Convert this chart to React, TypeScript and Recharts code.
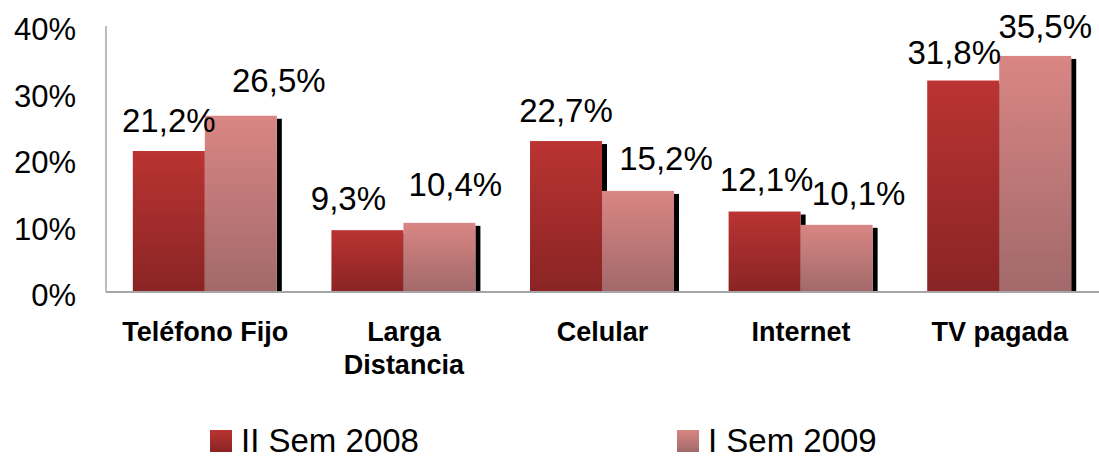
import React from 'react';
import { BarChart, Bar, XAxis, YAxis, LabelList } from 'recharts';

const FONT = '"Liberation Sans", Arial, sans-serif';

const categories = ['Teléfono Fijo', 'Larga\nDistancia', 'Celular', 'Internet', 'TV pagada'];
const seriesNames = ['II Sem 2008', 'I Sem 2009'];
const sem2008 = [21.2, 9.3, 22.7, 12.1, 31.8];
const sem2009 = [26.5, 10.4, 15.2, 10.1, 35.5];
const yTicks = [0, 10, 20, 30, 40];

const data = categories.map((name, i) => ({ name, s1: sem2008[i], s2: sem2009[i] }));

const GRADS = [
  { id: 'g1', top: '#BA3432', bottom: '#892424' },
  { id: 'g2', top: '#D98684', bottom: '#A2696A' },
];

// hand-placed label nudges from the original (dx, dy in px)
const NUDGE_1 = [[0, 0], [-19, -1], [0, 0], [2, -2], [-9, 2]];
const NUDGE_2 = [[38, -5], [16, -8], [28, -2], [22, -1], [10, 1]];

const fmt = (v: any) => `${Number(v).toFixed(1).replace('.', ',')}%`;

// bar with a black drop shadow on its right side
const ShadowBar = (props: any) => {
  const { x, y, width, height, fill } = props;
  if (!height || height <= 0) return null;
  return (
    <g>
      <rect x={x + width} y={y + 3} width={5} height={Math.max(height - 3, 0)} fill="#000" />
      <rect x={x} y={y} width={width} height={height} fill={fill} />
    </g>
  );
};

const makeLabel = (nudge: number[][]) => (props: any) => {
  const { x, y, width, value, index } = props;
  const [dx, dy] = nudge[index] || [0, 0];
  return (
    <text
      x={Number(x) + Number(width) / 2 + dx}
      y={Number(y) - 19 + dy}
      textAnchor="middle"
      fontFamily={FONT}
      fontSize={33}
      fill="#000"
    >
      {fmt(value)}
    </text>
  );
};

const CategoryTick = ({ x, y, payload }: any) => {
  const lines = String(payload.value).split('\n');
  return (
    <text x={x} y={y + 49} textAnchor="middle" fontFamily={FONT} fontWeight="bold" fontSize={27} fill="#000">
      {lines.map((l, i) => (
        <tspan key={i} x={x} dy={i === 0 ? 0 : 33}>{l}</tspan>
      ))}
    </text>
  );
};

const PercentTick = ({ x, y, payload }: any) => (
  <text x={x} y={y} dy={14} textAnchor="end" fontFamily={FONT} fontSize={31} fill="#000">
    {`${payload.value}%`}
  </text>
);

export default function App() {
  return (
    <div style={{ position: 'absolute', left: 0, top: 0, width: 1099, height: 459, background: '#fff', overflow: 'hidden' }}>
      <BarChart
        width={1099}
        height={459}
        data={data}
        margin={{ top: 26, right: 0, left: 0, bottom: 0 }}
        barCategoryGap="13.5%"
        barGap={0}
      >
        <defs>
          {GRADS.map((g) => (
            <linearGradient key={g.id} id={g.id} x1="0" y1="0" x2="0" y2="1">
              <stop offset="0%" stopColor={g.top} />
              <stop offset="100%" stopColor={g.bottom} />
            </linearGradient>
          ))}
        </defs>
        <XAxis
          dataKey="name"
          height={167}
          tickSize={0}
          tickMargin={0}
          interval={0}
          axisLine={{ stroke: '#A6A6A6', strokeWidth: 2 }}
          tickLine={false}
          tick={<CategoryTick />}
        />
        <YAxis
          width={106}
          domain={[0, 40]}
          ticks={yTicks}
          tickSize={6}
          tickMargin={24}
          axisLine={{ stroke: '#A6A6A6', strokeWidth: 1.5 }}
          tickLine={false}
          tick={<PercentTick />}
        />
        <Bar dataKey="s1" name={seriesNames[0]} fill="url(#g1)" shape={<ShadowBar />} isAnimationActive={false}>
          <LabelList dataKey="s1" content={makeLabel(NUDGE_1)} />
        </Bar>
        <Bar dataKey="s2" name={seriesNames[1]} fill="url(#g2)" shape={<ShadowBar />} isAnimationActive={false}>
          <LabelList dataKey="s2" content={makeLabel(NUDGE_2)} />
        </Bar>
      </BarChart>
      <div
        style={{
          position: 'absolute',
          left: 210,
          top: 428,
          display: 'flex',
          alignItems: 'center',
          gap: 258,
          fontFamily: FONT,
          fontSize: 33,
          lineHeight: '26px',
          color: '#000',
          whiteSpace: 'nowrap',
        }}
      >
        {seriesNames.map((n, i) => (
          <div key={n} style={{ display: 'flex', alignItems: 'center' }}>
            <div
              style={{
                width: 22,
                height: 22,
                marginRight: 9,
                background: `linear-gradient(${GRADS[i].top}, ${GRADS[i].bottom})`,
              }}
            />
            <span>{n}</span>
          </div>
        ))}
      </div>
    </div>
  );
}
